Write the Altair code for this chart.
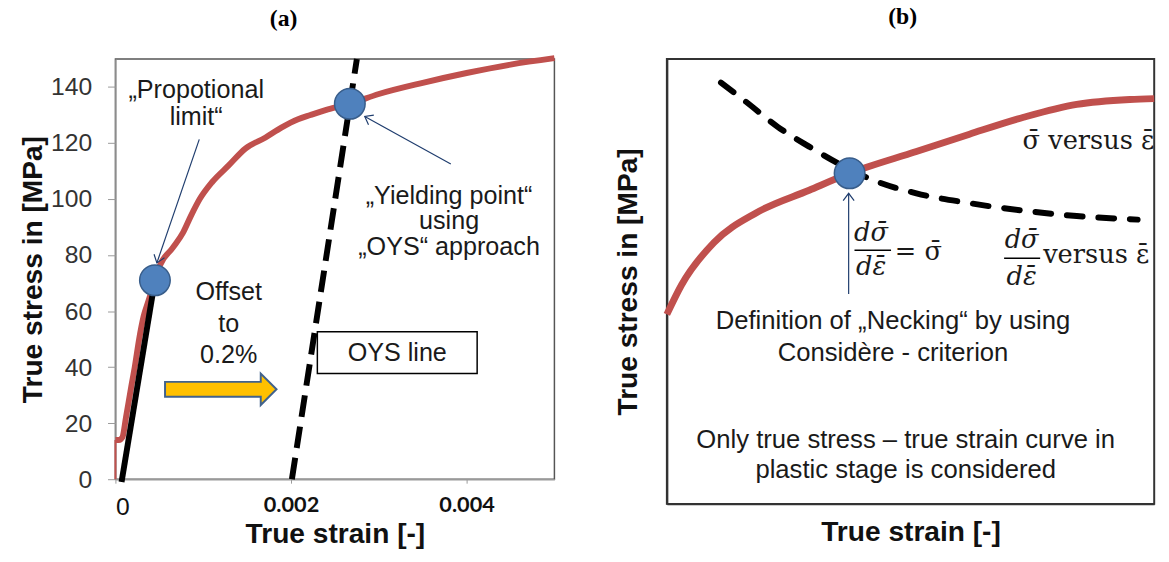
import altair as alt
import pandas as pd

# ---------------- panel (a): elastic range and 0.2 % offset yield ----------------
# measured true stress - true strain curve
curve_strain = [0.0, 0.00004, 0.00008, 0.00012, 0.00018, 0.00022, 0.00027, 0.00032, 0.00038,
                0.00045, 0.00051, 0.00065, 0.00077, 0.00086, 0.00096, 0.0011, 0.00129, 0.00148,
                0.00171, 0.00189, 0.00208, 0.00222, 0.00242, 0.00267, 0.0030, 0.0035, 0.0040,
                0.0045, 0.0050]
curve_stress = [14, 14, 15, 22, 33, 40, 50, 58, 64,
                71, 76.5, 82.5, 88, 94, 100, 106, 112, 118,
                122, 125.5, 128.5, 130, 132, 134, 137.5, 141.5, 145,
                148, 150.3]
# first recorded segment along the stress axis
toe_strain = [0.0, 0.0]
toe_stress = [0, 14]
# linear elastic fit and the line shifted by 0.2 % strain
elastic_strain = [0.00007, 0.00045]
elastic_stress = [-1, 71]
oys_strain = [0.00201, 0.00275]
oys_stress = [0, 150]
# marked points: proportional limit and yield point
point_strain = [0.00045, 0.00267]
point_stress = [71, 134]

x_ticks = [0, 0.002, 0.004]
y_ticks = [0, 20, 40, 60, 80, 100, 120, 140]

# ---------------- panel (b): Considere criterion (normalised units) ----------------
flow_strain = [0.0, 0.030, 0.097, 0.183, 0.292, 0.375, 0.512, 0.621, 0.732, 0.841, 0.950, 1.0]
flow_stress = [0.426, 0.492, 0.588, 0.654, 0.705, 0.743, 0.792, 0.831, 0.869, 0.898, 0.909, 0.911]
hardening_strain = [0.111, 0.161, 0.228, 0.292, 0.359, 0.425, 0.512, 0.621, 0.732, 0.841, 0.966]
hardening_rate = [0.947, 0.905, 0.847, 0.803, 0.761, 0.727, 0.698, 0.676, 0.659, 0.647, 0.639]
necking_strain = [0.375]
necking_stress = [0.743]

RED = "#c0504d"
BLUE = "#4f81bd"
BLUE_EDGE = "#385d8a"
ARROW = "#1f3d6e"
SANS = "Liberation Sans"
SERIF = "DejaVu Serif"

HEAD = "M -1 -0.75 L 0 0 L -1 0.75"
BLOCK = "M -1 -0.133 L 0.717 -0.133 L 0.717 -0.283 L 1 0 L 0.717 0.283 L 0.717 0.133 L -1 0.133 Z"


def df(**cols):
    return pd.DataFrame(cols)


def note(chart_x, chart_y, x, y, text, size, line_height, **style):
    """Centred annotation text; y is the position of its first line."""
    return alt.Chart(df(x=[x], y=[y], t=[text])).mark_text(
        fontSize=size, lineBreak="\n", lineHeight=line_height, align="center",
        baseline="middle", color="#1a1a1a", **style).encode(x=chart_x, y=chart_y, text="t:N")


# ---------- panel (a) ----------
xa_scale = alt.Scale(domain=[0, 0.005], nice=False, zero=False)
ya_scale = alt.Scale(domain=[0, 150], nice=False, zero=False)
xa = alt.X("x:Q", scale=xa_scale, title="True strain [-]",
           axis=alt.Axis(values=x_ticks, format=".3~f", grid=False,
                         domainColor="#999", domainWidth=1.5, tickColor="#999", tickSize=4,
                         labelPadding=12, labelColor="#111",
                         labelFont={"condition": {"test": "datum.value > 0", "value": "Lato"},
                                    "value": SANS},
                         labelFontWeight={"condition": {"test": "datum.value > 0", "value": "bold"},
                                          "value": "normal"},
                         labelFontSize={"condition": {"test": "datum.value > 0", "value": 22},
                                        "value": 25},
                         titleFont=SANS, titleFontSize=28.5, titleFontWeight="bold",
                         titleColor="#111", titlePadding=0))
ya = alt.Y("y:Q", scale=ya_scale, title="True stress in [MPa]",
           axis=alt.Axis(values=y_ticks, grid=False, domainColor="#999", domainWidth=1.5,
                         tickColor="#999", tickSize=8, labelPadding=16, labelFont=SANS,
                         labelFontSize=25, labelColor="#333", titleFont=SANS,
                         titleFontSize=28.5, titleFontWeight="bold", titleColor="#111",
                         titlePadding=3))

curve_a = alt.Chart(df(x=curve_strain, y=curve_stress)).mark_line(
    color=RED, strokeWidth=6, interpolate="monotone").encode(x=xa, y=ya)
toe_a = alt.Chart(df(x=toe_strain, y=toe_stress)).mark_line(
    color=RED, strokeWidth=2).encode(x=xa, y=ya)
elastic_a = alt.Chart(df(x=elastic_strain, y=elastic_stress)).mark_line(
    color="black", strokeWidth=6).encode(x=xa, y=ya)
oys_a = alt.Chart(df(x=oys_strain, y=oys_stress)).mark_line(
    color="black", strokeWidth=6, strokeDash=[22, 10]).encode(x=xa, y=ya)

offset_arrow = alt.Chart(df(x=[0.0012], y=[32.1])).mark_point(
    shape=BLOCK, size=12769, filled=True, fill="#ffc000", stroke="#41628c",
    strokeWidth=2, opacity=1).encode(x=xa, y=ya)

box_a = alt.Chart(df(x=[0.0023], x2=[0.00412], y=[37.7], y2=[52.6])).mark_rect(
    fill="white", stroke="black", strokeWidth=1.5).encode(
    x=xa, x2="x2:Q", y=ya, y2="y2:Q")

pointer_a = alt.Chart(df(x=[0.000955, 0.00382], y=[121.3, 112.5],
                         x2=[0.000472, 0.00284], y2=[77.2, 129.5])).mark_rule(
    color=ARROW, strokeWidth=1.2).encode(x=xa, y=ya, x2="x2:Q", y2="y2:Q")
heads_a = alt.Chart(df(x=[0.000472, 0.00284], y=[77.2, 129.5], a=[109, 209])).mark_point(
    shape=HEAD, size=220, filled=False, color=ARROW, strokeWidth=1.2, opacity=1).encode(
    x=xa, y=ya, angle=alt.Angle("a:Q", scale=None))

points_a = alt.Chart(df(x=point_strain, y=point_stress)).mark_point(
    shape="circle", size=960, filled=True, fill=BLUE, stroke=BLUE_EDGE, strokeWidth=1.5,
    opacity=1).encode(x=xa, y=ya)

notes_a = [
    note(xa, ya, 0.00092, 139, "\u201ePropotional\nlimit\u201c", 25.5, 28, font=SANS),
    note(xa, ya, 0.00129, 66.7, "Offset\nto\n0.2%", 25.5, 32, font=SANS),
    note(xa, ya, 0.0038, 101.2, "\u201eYielding point\u201c\nusing\n\u201eOYS\u201c approach",
         25.5, 26, font=SANS),
    note(xa, ya, 0.00321, 45.1, "OYS line", 25.5, 26, font=SANS),
]

panel_a = alt.layer(
    curve_a, toe_a, elastic_a, oys_a, offset_arrow, box_a, pointer_a, heads_a, points_a,
    *notes_a
).properties(
    width=445, height=426,
    title=alt.TitleParams("(a)", font="Liberation Serif", fontSize=24, fontWeight="bold",
                          anchor="middle", frame="group", dx=-52, offset=16, color="black"),
    view=alt.ViewBackground(stroke="#555", strokeWidth=1.5),
)

# ---------- panel (b) ----------
xb_scale = alt.Scale(domain=[0, 1], nice=False, zero=False)
yb_scale = alt.Scale(domain=[0, 1], nice=False, zero=False)
xb = alt.X("x:Q", scale=xb_scale, title="True strain [-]",
           axis=alt.Axis(labels=False, ticks=False, grid=False, domainColor="#333",
                         domainWidth=2, titleFont=SANS, titleFontSize=28.5,
                         titleFontWeight="bold", titleColor="#111", titlePadding=14))
yb = alt.Y("y:Q", scale=yb_scale, title="True stress in [MPa]",
           axis=alt.Axis(labels=False, ticks=False, grid=False, domainColor="#333",
                         domainWidth=2, titleFont=SANS, titleFontSize=28.5,
                         titleFontWeight="bold", titleColor="#111", titlePadding=25))

flow_b = alt.Chart(df(x=flow_strain, y=flow_stress)).mark_line(
    color=RED, strokeWidth=7, interpolate="monotone").encode(x=xb, y=yb)
rate_b = alt.Chart(df(x=hardening_strain, y=hardening_rate)).mark_line(
    color="black", strokeWidth=6, strokeDash=[16, 16], strokeCap="round",
    interpolate="monotone").encode(x=xb, y=yb)
neck_b = alt.Chart(df(x=necking_strain, y=necking_stress)).mark_point(
    shape="circle", size=960, filled=True, fill=BLUE, stroke=BLUE_EDGE, strokeWidth=1.5,
    opacity=1).encode(x=xb, y=yb)
pointer_b = alt.Chart(df(x=[0.373], y=[0.472], y2=[0.698])).mark_rule(
    color=ARROW, strokeWidth=1.2).encode(x=xb, y=yb, y2="y2:Q")
head_b = alt.Chart(df(x=[0.373], y=[0.698], a=[270])).mark_point(
    shape=HEAD, size=220, filled=False, color=ARROW, strokeWidth=1.2, opacity=1).encode(
    x=xb, y=yb, angle=alt.Angle("a:Q", scale=None))

frac_bars = alt.Chart(df(x=[0.385, 0.692], x2=[0.460, 0.766], y=[0.570, 0.552])).mark_rule(
    color="black", strokeWidth=1.6).encode(x=xb, x2="x2:Q", y=yb)
math_italic = alt.Chart(df(
    x=[0.419, 0.419, 0.728, 0.728],
    y=[0.6075, 0.532, 0.592, 0.510],
    t=["d\u03c3\u0304", "d\u03b5\u0304", "d\u03c3\u0304", "d\u03b5\u0304"])).mark_text(
    font=SERIF, fontSize=26, fontStyle="italic", color="#1a1a1a", align="center",
    baseline="middle").encode(x=xb, y=yb, text="t:N")
math_plain = alt.Chart(df(
    x=[0.516, 0.881, 0.865],
    y=[0.565, 0.559, 0.816],
    t=["= \u03c3\u0304", "versus \u03b5\u0304", "\u03c3\u0304 versus \u03b5\u0304"])).mark_text(
    font=SERIF, fontSize=26, color="#1a1a1a", align="center", baseline="middle").encode(
    x=xb, y=yb, text="t:N")
notes_b = [
    note(xb, yb, 0.464, 0.410,
         "Definition of \u201eNecking\u201c by using\nConsid\u00e8re - criterion", 26, 32,
         font=SANS),
    note(xb, yb, 0.490, 0.144,
         "Only true stress \u2013 true strain curve in\nplastic stage is considered", 26, 31,
         font=SANS),
]

panel_b = alt.layer(
    flow_b, rate_b, neck_b, pointer_b, head_b, frac_bars, math_italic, math_plain, *notes_b
).properties(
    width=494, height=451,
    title=alt.TitleParams("(b)", font="Liberation Serif", fontSize=24, fontWeight="bold",
                          anchor="middle", frame="group", dx=-8, offset=30, color="black"),
    view=alt.ViewBackground(stroke="#333", strokeWidth=2),
)

# plot areas are laid out flush; axes and titles sit around them
chart = alt.hconcat(panel_a, panel_b, spacing=114, bounds="flush").configure(
    padding={"left": 18, "top": 1, "right": 0, "bottom": 0},
    background="white",
)

chart.save("out.html", embed_options={"renderer": "svg", "actions": False})
